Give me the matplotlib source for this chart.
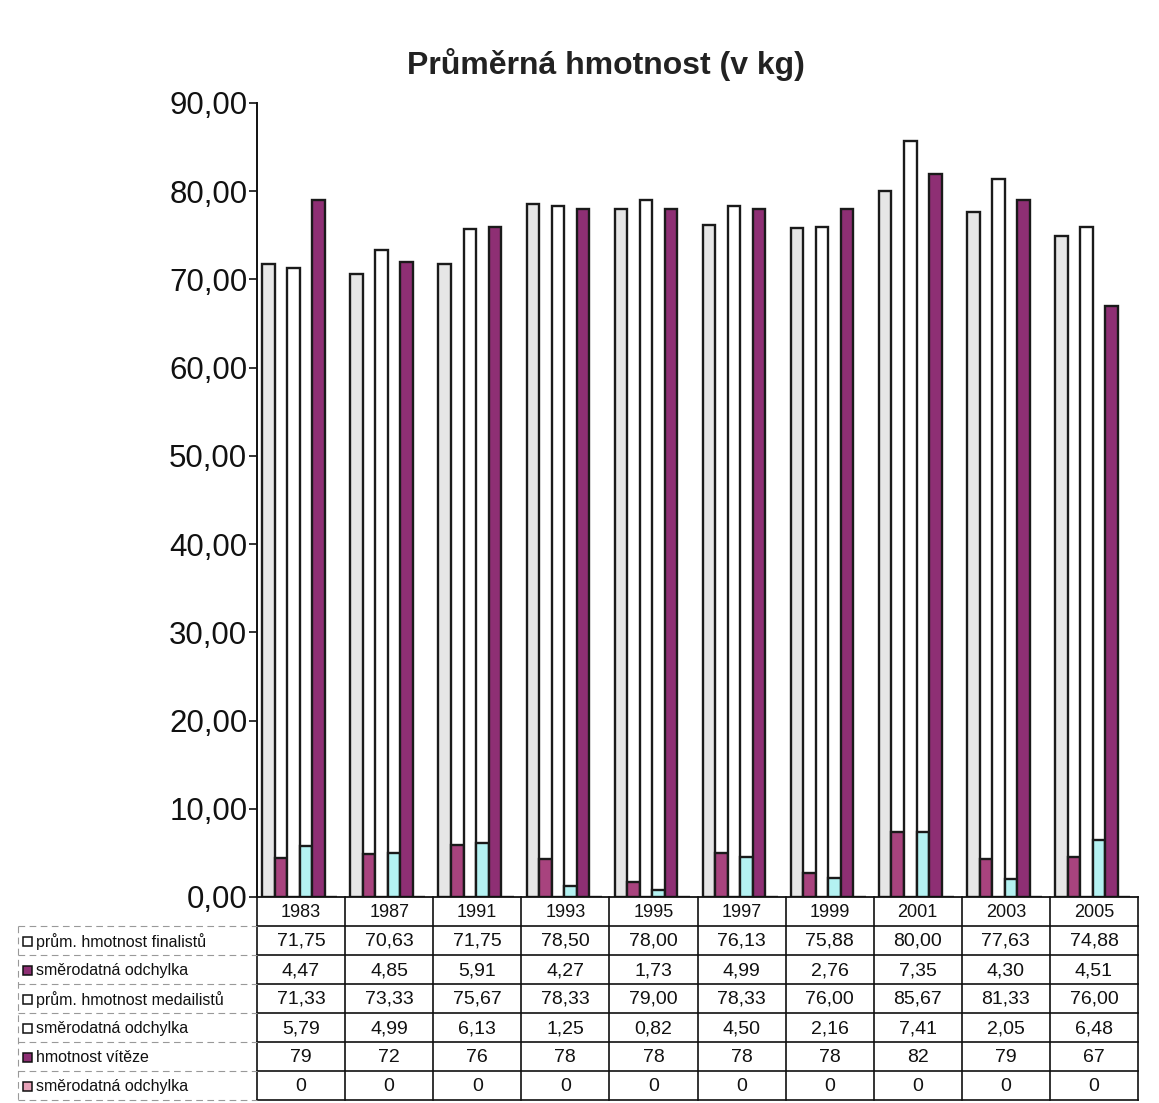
import numpy as np
import matplotlib
matplotlib.use("Agg")
import matplotlib.pyplot as plt
from matplotlib.ticker import FuncFormatter, MultipleLocator
from matplotlib.patches import Rectangle

plt.rcParams["font.family"] = ["Liberation Sans", "DejaVu Sans"]

# ── data ──────────────────────────────────────────────────────────────────────
years = ["1983", "1987", "1991", "1993", "1995", "1997", "1999", "2001", "2003", "2005"]

series_names = [
    "prům. hmotnost finalistů",
    "směrodatná odchylka",
    "prům. hmotnost medailistů",
    "směrodatná odchylka",
    "hmotnost vítěze",
    "směrodatná odchylka",
]

fin_mean = [71.75, 70.63, 71.75, 78.50, 78.00, 76.13, 75.88, 80.00, 77.63, 74.88]
fin_sd = [4.47, 4.85, 5.91, 4.27, 1.73, 4.99, 2.76, 7.35, 4.30, 4.51]
med_mean = [71.33, 73.33, 75.67, 78.33, 79.00, 78.33, 76.00, 85.67, 81.33, 76.00]
med_sd = [5.79, 4.99, 6.13, 1.25, 0.82, 4.50, 2.16, 7.41, 2.05, 6.48]
winner = [79, 72, 76, 78, 78, 78, 78, 82, 79, 67]
winner_sd = [0, 0, 0, 0, 0, 0, 0, 0, 0, 0]

# table text as printed (two decimals for means/sd, integers for winner)
table_fmt = ["{:.2f}", "{:.2f}", "{:.2f}", "{:.2f}", "{:.0f}", "{:.0f}"]

colors = ["#E6E6E6", "#A8437E", "#FFFFFF", "#B4F2F2", "#8E2F74", "#DC8AA6"]
legend_colors = ["#FFFFFF", "#8E2F74", "#FFFFFF", "#FFFFFF", "#8E2F74", "#E7A2B8"]

W, H = 1159, 1103
fig = plt.figure(figsize=(W / 100, H / 100), dpi=100)

# pixel layout of the scanned chart
ax_l, ax_r, ax_t, ax_b = 257, 1138, 103, 897
ax = fig.add_axes([ax_l / W, 1 - ax_b / H, (ax_r - ax_l) / W, (ax_b - ax_t) / H])

all_series = [fin_mean, fin_sd, med_mean, med_sd, winner, winner_sd]
x = np.arange(len(years))
bw = 0.142
for j, (vals, c) in enumerate(zip(all_series, colors)):
    ax.bar(x + 0.06 + j * bw, vals, width=bw, align="edge", color=c,
           edgecolor="#1a1a1a", linewidth=1.7, zorder=3)

ax.set_xlim(0, len(years))
ax.set_ylim(0, 90)
ax.yaxis.set_major_locator(MultipleLocator(10))
ax.yaxis.set_major_formatter(FuncFormatter(lambda v, p: f"{v:.2f}".replace(".", ",")))
ax.tick_params(axis="y", labelsize=22.5, length=6, width=1.2, pad=1, colors="#111111")
ax.tick_params(axis="x", bottom=False, labelbottom=False)
for s in ["top", "right", "bottom"]:
    ax.spines[s].set_visible(False)
ax.spines["left"].set_linewidth(1.4)
ax.spines["left"].set_color("#111111")
ax.set_facecolor("none")

fig.text(606 / W, 1 - 65 / H, "Průměrná hmotnost (v kg)", ha="center", va="center",
         fontsize=23, fontweight="bold", color="#222222")

# ── data table under the bars (pixel coordinates) ─────────────────────────────
tab = fig.add_axes([0, 0, 1, 1], zorder=5)
tab.set_xlim(0, W)
tab.set_ylim(H, 0)
tab.axis("off")

cw = (ax_r - ax_l) / len(years)
hdr_t, hdr_b = ax_b, 926
rh = 29.0
n_rows = len(series_names)
row_edges = [hdr_b + k * rh for k in range(n_rows + 1)]
lc = "#111111"

# header (years)
tab.plot([ax_l, ax_r], [hdr_t, hdr_t], color=lc, lw=1.3)
for k in range(len(years) + 1):
    tab.plot([ax_l + k * cw] * 2, [hdr_t, row_edges[-1]], color=lc, lw=1.2)
for i, yr in enumerate(years):
    tab.text(ax_l + (i + 0.5) * cw, (hdr_t + hdr_b) / 2 + 1, yr, ha="center", va="center",
             fontsize=13, color="#111111")

# rows
lab_l = 18
for k, yy in enumerate(row_edges):
    tab.plot([ax_l, ax_r], [yy, yy], color=lc, lw=1.2)
    tab.plot([lab_l, ax_l], [yy, yy], color="#999999", lw=0.8, ls=(0, (6, 4)))
tab.plot([lab_l, lab_l], [row_edges[0], row_edges[-1]], color="#999999", lw=0.8, ls=(0, (6, 4)))

for r, (name, vals, fmt, mc) in enumerate(zip(series_names, all_series, table_fmt, legend_colors)):
    yc = (row_edges[r] + row_edges[r + 1]) / 2
    tab.add_patch(Rectangle((23, yc - 4), 9, 9, facecolor=mc, edgecolor=lc, lw=1.1))
    tab.text(36, yc + 1, name, ha="left", va="center", fontsize=11.5, color="#111111")
    for i, v in enumerate(vals):
        tab.text(ax_l + (i + 0.5) * cw, yc + 1, fmt.format(v).replace(".", ","),
                 ha="center", va="center", fontsize=14, color="#111111")

fig.savefig("out.png", dpi=100)
